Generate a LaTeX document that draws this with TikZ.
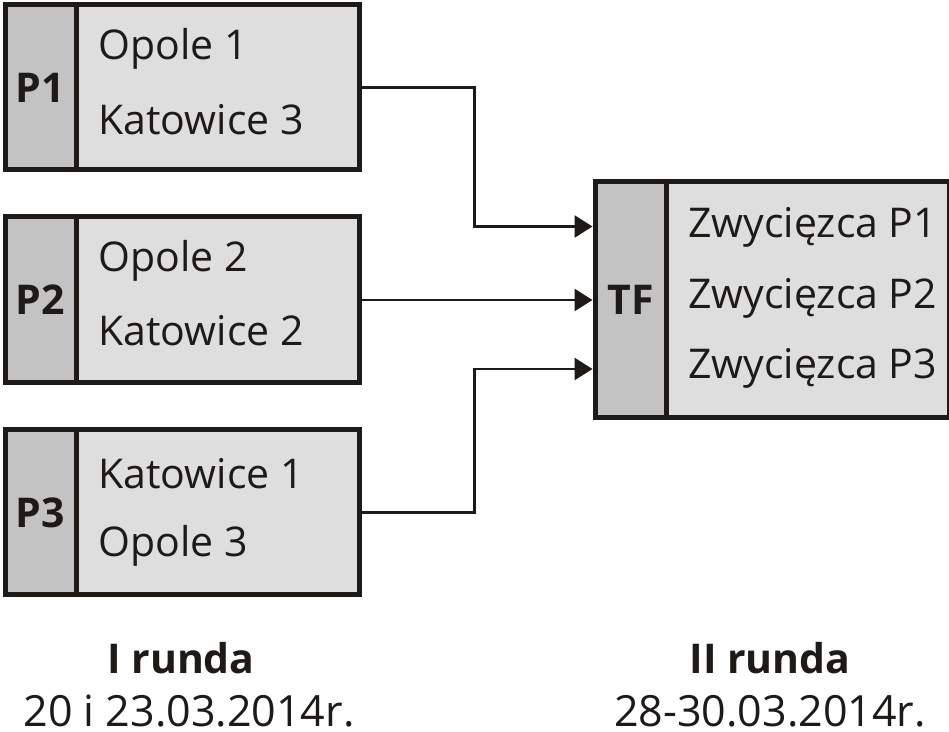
\documentclass[tikz,border=0pt]{standalone}
\usepackage{fontspec}
\setmainfont{Open Sans}
\usetikzlibrary{arrows.meta}

\definecolor{edgecol}{HTML}{1E1A18}
\definecolor{stripfill}{HTML}{C3C3C3}
\definecolor{boxfill}{HTML}{DEDEDE}

\tikzset{
  groupbox/.style={draw=edgecol, line width=2.5pt, fill=boxfill, rectangle,
    inner sep=0pt, anchor=north west, minimum width=177pt, minimum height=#1},
  stripbox/.style={draw=edgecol, line width=2.5pt, fill=stripfill, rectangle,
    inner sep=0pt, anchor=north west, minimum width=35.5pt, minimum height=#1,
    font=\fontsize{20.5}{24}\selectfont\bfseries, text=edgecol},
  team/.style={anchor=base west, inner sep=0pt, text=edgecol,
    font=\fontsize{20.5}{24}\selectfont},
  caption/.style={anchor=base, inner sep=0pt, text=edgecol,
    font=\fontsize{20.5}{24}\selectfont},
  link/.style={draw=edgecol, line width=1.3pt, -{Triangle[length=9pt,width=11pt]}}
}

\begin{document}
\begin{tikzpicture}[x=0.5pt,y=-0.5pt]
\useasboundingbox (0,0) rectangle (949,732);

% pierwsza runda
\node[groupbox=82.5pt] (P1) at (2.5,2.5) {};
\node[stripbox=82.5pt] (P1s) at (2.5,2.5) {P1};
\node[team] (P1a) at (98,60) {Opole 1};
\node[team] (P1b) at (98,135) {Katowice 3};

\node[groupbox=83pt] (P2) at (2.5,214.5) {};
\node[stripbox=83pt] (P2s) at (2.5,214.5) {P2};
\node[team] (P2a) at (98,272) {Opole 2};
\node[team] (P2b) at (98,346) {Katowice 2};

\node[groupbox=82.5pt] (P3) at (2.5,427.5) {};
\node[stripbox=82.5pt] (P3s) at (2.5,427.5) {P3};
\node[team] (P3a) at (98,489) {Katowice 1};
\node[team] (P3b) at (98,557) {Opole 3};

% druga runda
\node[groupbox=118pt] (TF) at (592.5,179.5) {};
\node[stripbox=118pt] (TFs) at (592.5,179.5) {TF};
\node[team] (TFa) at (688,238) {Zwycięzca P1};
\node[team] (TFb) at (688,309) {Zwycięzca P2};
\node[team] (TFc) at (688,379) {Zwycięzca P3};

% polaczenia
\coordinate (in1) at (592.5,226.5);
\coordinate (in3) at (592.5,369);
\draw[link] (P1.east) -| (474.5,160) |- (in1);
\draw[link] (P2.east) -- (TF.west |- P2.east);
\draw[link] (P3.east) -| (474.5,400) |- (in3);

% podpisy
\node[caption,font=\fontsize{20.5}{24}\selectfont\bfseries] (R1) at (181,674) {I runda};
\node[caption,font=\fontsize{21.5}{24}\selectfont] (D1) at (189,727) {20 i 23.03.2014r.};
\node[caption,font=\fontsize{20.5}{24}\selectfont\bfseries] (R2) at (770,674) {II runda};
\node[caption,font=\fontsize{21.5}{24}\selectfont] (D2) at (770,727) {28-30.03.2014r.};
\end{tikzpicture}
\end{document}
